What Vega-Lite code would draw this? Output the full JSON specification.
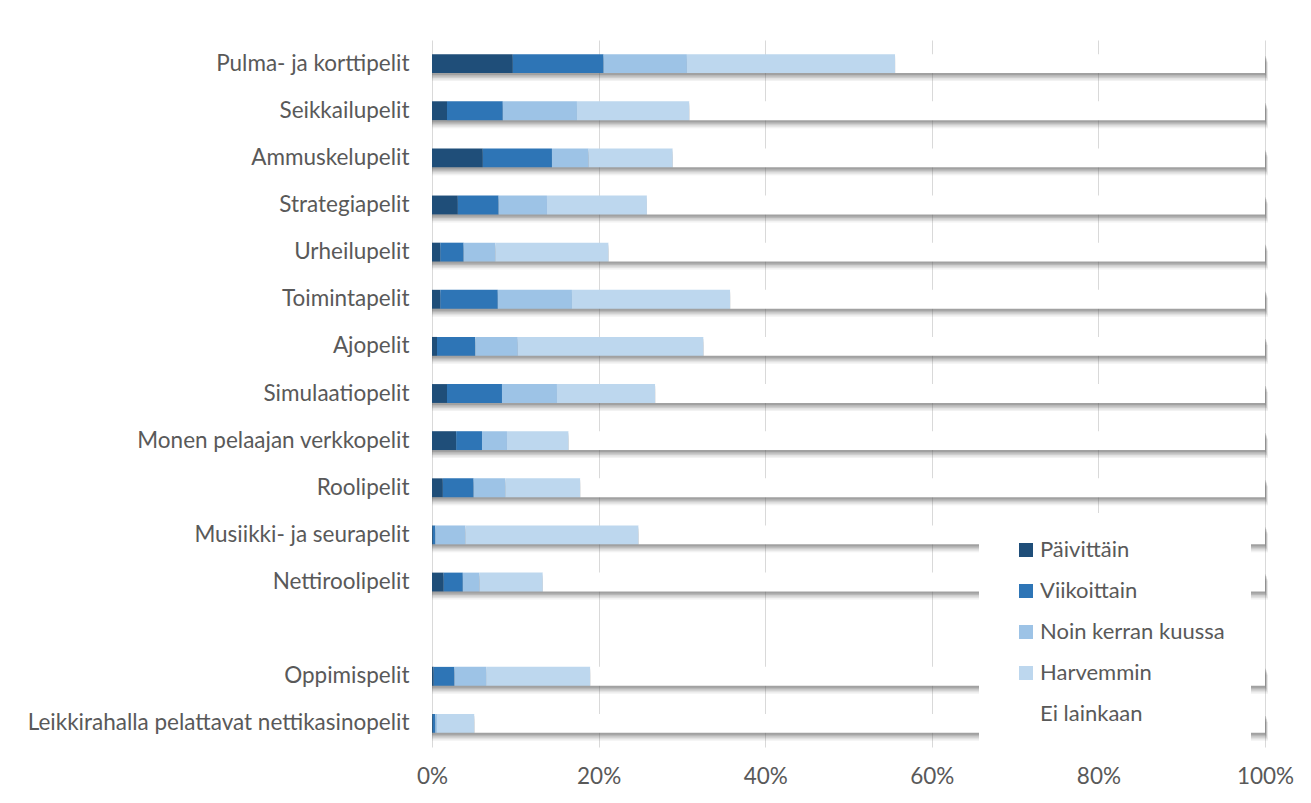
{
  "$schema": "https://vega.github.io/schema/vega-lite/v6.json",
  "autosize": {"type": "none"},
  "width": 833,
  "height": 707,
  "padding": {"left": 432, "top": 40, "right": 46, "bottom": 56},
  "background": "white",
  "config": {
    "view": {"stroke": null},
    "font": "Lato",
    "axis": {"labelFont": "Lato", "labelColor": "#595959", "labelFontSize": 22.5, "ticks": false, "domain": false, "labelLimit": 600}
  },
  "data": {"values": [
    {"peli": "Pulma- ja korttipelit", "tiheys": "Päivittäin", "k": 1, "osuus": 9.7},
    {"peli": "Pulma- ja korttipelit", "tiheys": "Viikoittain", "k": 2, "osuus": 10.9},
    {"peli": "Pulma- ja korttipelit", "tiheys": "Noin kerran kuussa", "k": 3, "osuus": 10.0},
    {"peli": "Pulma- ja korttipelit", "tiheys": "Harvemmin", "k": 4, "osuus": 25.0},
    {"peli": "Pulma- ja korttipelit", "tiheys": "Ei lainkaan", "k": 5, "osuus": 44.4},
    {"peli": "Seikkailupelit", "tiheys": "Päivittäin", "k": 1, "osuus": 1.8},
    {"peli": "Seikkailupelit", "tiheys": "Viikoittain", "k": 2, "osuus": 6.7},
    {"peli": "Seikkailupelit", "tiheys": "Noin kerran kuussa", "k": 3, "osuus": 8.9},
    {"peli": "Seikkailupelit", "tiheys": "Harvemmin", "k": 4, "osuus": 13.5},
    {"peli": "Seikkailupelit", "tiheys": "Ei lainkaan", "k": 5, "osuus": 69.1},
    {"peli": "Ammuskelupelit", "tiheys": "Päivittäin", "k": 1, "osuus": 6.1},
    {"peli": "Ammuskelupelit", "tiheys": "Viikoittain", "k": 2, "osuus": 8.3},
    {"peli": "Ammuskelupelit", "tiheys": "Noin kerran kuussa", "k": 3, "osuus": 4.4},
    {"peli": "Ammuskelupelit", "tiheys": "Harvemmin", "k": 4, "osuus": 10.1},
    {"peli": "Ammuskelupelit", "tiheys": "Ei lainkaan", "k": 5, "osuus": 71.1},
    {"peli": "Strategiapelit", "tiheys": "Päivittäin", "k": 1, "osuus": 3.1},
    {"peli": "Strategiapelit", "tiheys": "Viikoittain", "k": 2, "osuus": 4.9},
    {"peli": "Strategiapelit", "tiheys": "Noin kerran kuussa", "k": 3, "osuus": 5.8},
    {"peli": "Strategiapelit", "tiheys": "Harvemmin", "k": 4, "osuus": 12.0},
    {"peli": "Strategiapelit", "tiheys": "Ei lainkaan", "k": 5, "osuus": 74.2},
    {"peli": "Urheilupelit", "tiheys": "Päivittäin", "k": 1, "osuus": 1.0},
    {"peli": "Urheilupelit", "tiheys": "Viikoittain", "k": 2, "osuus": 2.8},
    {"peli": "Urheilupelit", "tiheys": "Noin kerran kuussa", "k": 3, "osuus": 3.8},
    {"peli": "Urheilupelit", "tiheys": "Harvemmin", "k": 4, "osuus": 13.6},
    {"peli": "Urheilupelit", "tiheys": "Ei lainkaan", "k": 5, "osuus": 78.8},
    {"peli": "Toimintapelit", "tiheys": "Päivittäin", "k": 1, "osuus": 1.0},
    {"peli": "Toimintapelit", "tiheys": "Viikoittain", "k": 2, "osuus": 6.9},
    {"peli": "Toimintapelit", "tiheys": "Noin kerran kuussa", "k": 3, "osuus": 8.9},
    {"peli": "Toimintapelit", "tiheys": "Harvemmin", "k": 4, "osuus": 19.0},
    {"peli": "Toimintapelit", "tiheys": "Ei lainkaan", "k": 5, "osuus": 64.2},
    {"peli": "Ajopelit", "tiheys": "Päivittäin", "k": 1, "osuus": 0.6},
    {"peli": "Ajopelit", "tiheys": "Viikoittain", "k": 2, "osuus": 4.6},
    {"peli": "Ajopelit", "tiheys": "Noin kerran kuussa", "k": 3, "osuus": 5.1},
    {"peli": "Ajopelit", "tiheys": "Harvemmin", "k": 4, "osuus": 22.3},
    {"peli": "Ajopelit", "tiheys": "Ei lainkaan", "k": 5, "osuus": 67.4},
    {"peli": "Simulaatiopelit", "tiheys": "Päivittäin", "k": 1, "osuus": 1.8},
    {"peli": "Simulaatiopelit", "tiheys": "Viikoittain", "k": 2, "osuus": 6.6},
    {"peli": "Simulaatiopelit", "tiheys": "Noin kerran kuussa", "k": 3, "osuus": 6.6},
    {"peli": "Simulaatiopelit", "tiheys": "Harvemmin", "k": 4, "osuus": 11.8},
    {"peli": "Simulaatiopelit", "tiheys": "Ei lainkaan", "k": 5, "osuus": 73.2},
    {"peli": "Monen pelaajan verkkopelit", "tiheys": "Päivittäin", "k": 1, "osuus": 2.9},
    {"peli": "Monen pelaajan verkkopelit", "tiheys": "Viikoittain", "k": 2, "osuus": 3.1},
    {"peli": "Monen pelaajan verkkopelit", "tiheys": "Noin kerran kuussa", "k": 3, "osuus": 3.0},
    {"peli": "Monen pelaajan verkkopelit", "tiheys": "Harvemmin", "k": 4, "osuus": 7.4},
    {"peli": "Monen pelaajan verkkopelit", "tiheys": "Ei lainkaan", "k": 5, "osuus": 83.6},
    {"peli": "Roolipelit", "tiheys": "Päivittäin", "k": 1, "osuus": 1.3},
    {"peli": "Roolipelit", "tiheys": "Viikoittain", "k": 2, "osuus": 3.7},
    {"peli": "Roolipelit", "tiheys": "Noin kerran kuussa", "k": 3, "osuus": 3.8},
    {"peli": "Roolipelit", "tiheys": "Harvemmin", "k": 4, "osuus": 9.0},
    {"peli": "Roolipelit", "tiheys": "Ei lainkaan", "k": 5, "osuus": 82.2},
    {"peli": "Musiikki- ja seurapelit", "tiheys": "Päivittäin", "k": 1, "osuus": 0.1},
    {"peli": "Musiikki- ja seurapelit", "tiheys": "Viikoittain", "k": 2, "osuus": 0.3},
    {"peli": "Musiikki- ja seurapelit", "tiheys": "Noin kerran kuussa", "k": 3, "osuus": 3.6},
    {"peli": "Musiikki- ja seurapelit", "tiheys": "Harvemmin", "k": 4, "osuus": 20.8},
    {"peli": "Musiikki- ja seurapelit", "tiheys": "Ei lainkaan", "k": 5, "osuus": 75.2},
    {"peli": "Nettiroolipelit", "tiheys": "Päivittäin", "k": 1, "osuus": 1.4},
    {"peli": "Nettiroolipelit", "tiheys": "Viikoittain", "k": 2, "osuus": 2.3},
    {"peli": "Nettiroolipelit", "tiheys": "Noin kerran kuussa", "k": 3, "osuus": 2.0},
    {"peli": "Nettiroolipelit", "tiheys": "Harvemmin", "k": 4, "osuus": 7.6},
    {"peli": "Nettiroolipelit", "tiheys": "Ei lainkaan", "k": 5, "osuus": 86.7},
    {"peli": "Oppimispelit", "tiheys": "Päivittäin", "k": 1, "osuus": 0.2},
    {"peli": "Oppimispelit", "tiheys": "Viikoittain", "k": 2, "osuus": 2.5},
    {"peli": "Oppimispelit", "tiheys": "Noin kerran kuussa", "k": 3, "osuus": 3.8},
    {"peli": "Oppimispelit", "tiheys": "Harvemmin", "k": 4, "osuus": 12.5},
    {"peli": "Oppimispelit", "tiheys": "Ei lainkaan", "k": 5, "osuus": 81.0},
    {"peli": "Leikkirahalla pelattavat nettikasinopelit", "tiheys": "Päivittäin", "k": 1, "osuus": 0.1},
    {"peli": "Leikkirahalla pelattavat nettikasinopelit", "tiheys": "Viikoittain", "k": 2, "osuus": 0.3},
    {"peli": "Leikkirahalla pelattavat nettikasinopelit", "tiheys": "Noin kerran kuussa", "k": 3, "osuus": 0.2},
    {"peli": "Leikkirahalla pelattavat nettikasinopelit", "tiheys": "Harvemmin", "k": 4, "osuus": 4.5},
    {"peli": "Leikkirahalla pelattavat nettikasinopelit", "tiheys": "Ei lainkaan", "k": 5, "osuus": 94.9}
  ]},
  "encoding": {
    "y": {
      "field": "peli", "type": "nominal", "title": null,
      "scale": {
        "domain": ["Pulma- ja korttipelit", "Seikkailupelit", "Ammuskelupelit", "Strategiapelit", "Urheilupelit", "Toimintapelit", "Ajopelit", "Simulaatiopelit", "Monen pelaajan verkkopelit", "Roolipelit", "Musiikki- ja seurapelit", "Nettiroolipelit", " ", "Oppimispelit", "Leikkirahalla pelattavat nettikasinopelit"],
        "paddingInner": 0.6, "paddingOuter": 0.3
      },
      "axis": {"labelPadding": 23, "grid": false, "labelLimit": 600}
    }
  },
  "layer": [
    {
      "mark": {"type": "bar", "color": "#555555", "opacity": 0.08, "yOffset": 8, "xOffset": 3},
      "encoding": {"x": {"aggregate": "sum", "field": "osuus", "type": "quantitative", "stack": null, "title": null, "scale": {"domain": [0, 100]},
        "axis": {"values": [0, 20, 40, 60, 80, 100], "labelExpr": "datum.value + '%'", "gridColor": "#d9d9d9", "gridWidth": 1, "labelPadding": 18, "labelFlush": false}}}
    },
    {
      "mark": {"type": "bar", "color": "#555555", "opacity": 0.1, "yOffset": 6.5, "xOffset": 2.5},
      "encoding": {"x": {"aggregate": "sum", "field": "osuus", "type": "quantitative", "stack": null}}
    },
    {
      "mark": {"type": "bar", "color": "#555555", "opacity": 0.14, "yOffset": 5, "xOffset": 2},
      "encoding": {"x": {"aggregate": "sum", "field": "osuus", "type": "quantitative", "stack": null}}
    },
    {
      "mark": {"type": "bar", "color": "#555555", "opacity": 0.18, "yOffset": 3.5, "xOffset": 1.5},
      "encoding": {"x": {"aggregate": "sum", "field": "osuus", "type": "quantitative", "stack": null}}
    },
    {
      "mark": {"type": "bar", "color": "#555555", "opacity": 0.22, "yOffset": 2, "xOffset": 1},
      "encoding": {"x": {"aggregate": "sum", "field": "osuus", "type": "quantitative", "stack": null}}
    },
    {
      "mark": {"type": "bar"},
      "encoding": {
        "x": {"field": "osuus", "type": "quantitative", "stack": "zero"},
        "color": {
          "field": "tiheys", "type": "nominal", "title": null,
          "scale": {
            "domain": ["Päivittäin", "Viikoittain", "Noin kerran kuussa", "Harvemmin", "Ei lainkaan"],
            "range": ["#1f4e79", "#2e75b6", "#9dc3e6", "#bdd7ee", "#ffffff"]
          },
          "legend": {
            "orient": "none", "legendX": 547, "legendY": 473,
            "direction": "vertical",
            "fillColor": "white", "padding": 26, "symbolOffset": 10,
            "symbolType": "square", "symbolSize": 196, "symbolStrokeWidth": 0, "symbolOpacity": 1,
            "labelFont": "Lato", "labelFontSize": 22, "labelColor": "#595959", "labelOffset": 3,
            "rowPadding": 19, "labelLimit": 400
          }
        },
        "order": {"field": "k", "type": "quantitative"}
      }
    }
  ]
}
